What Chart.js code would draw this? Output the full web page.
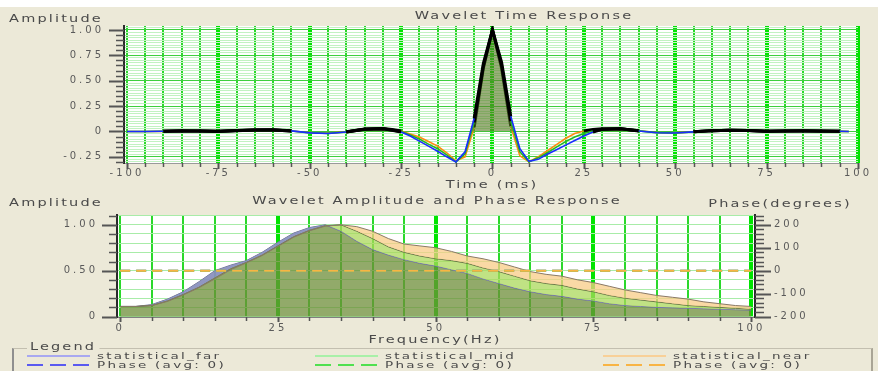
<!DOCTYPE html>
<html>
<head>
<meta charset="utf-8">
<script src="https://cdn.jsdelivr.net/npm/chart.js@4"></script>
<style>
  body { margin: 0; width: 878px; height: 371px; background: #ece9d8; position: relative; overflow: hidden; font-family: "DejaVu Sans", sans-serif; }
  .strip { position: absolute; left: 0; top: 0; width: 878px; height: 7px; background: #fff; }
  .wrap { position: absolute; left: 0; width: 878px; }
  .t { position: absolute; font-size: 10px; line-height: 1; color: #4a4a4a; letter-spacing: 1.5px; white-space: nowrap; transform: translate(-50%, -50%) scaleX(1.45); }
  .box { position: absolute; left: 12px; top: 348px; width: 857px; height: 40px; border-top: 1px solid #c3bfb0; border-left: 2px solid #8f8f8f; border-right: 2px solid #a9a596; }
  .lt { position: absolute; font-size: 10px; line-height: 1; color: #4a4a4a; letter-spacing: 1.5px; white-space: nowrap; background: #ece9d8; transform: translateY(-50%) scaleX(1.45); transform-origin: 0 50%; }
  .lg { position: absolute; font-size: 9px; line-height: 1; color: #4a4a4a; letter-spacing: 1.5px; white-space: nowrap; transform: translateY(-50%) scaleX(1.5); transform-origin: 0 50%; }
  .smp { position: absolute; width: 63px; height: 2px; }
</style>
</head>
<body>
<div class="strip"></div>
<div class="wrap" style="top:0;height:190px"><canvas id="timeChart"></canvas></div>
<div class="wrap" style="top:190px;height:155px"><canvas id="freqChart"></canvas></div>

<div class="t" style="left:56px;top:19px">Amplitude</div>
<div class="t" style="left:524px;top:16px">Wavelet Time Response</div>
<div class="t" style="left:492px;top:185px">Time (ms)</div>
<div class="t" style="left:56px;top:203px">Amplitude</div>
<div class="t" style="left:437px;top:201px">Wavelet Amplitude and Phase Response</div>
<div class="t" style="left:780px;top:204px">Phase(degrees)</div>
<div class="t" style="left:435px;top:340px">Frequency(Hz)</div>

<div class="box"></div>
<div class="lt" style="left:27px;top:347px;padding:0 2px">Legend</div>
<div id="legend"></div>

<script>
// time response (ms)
const TIME_MS = [-100, -95, -90, -85, -80, -75, -70, -65, -60, -55, -50, -45, -40, -35, -30,
  -27.5, -25, -22.5, -20, -17.5, -15, -12.5, -10, -7.5, -5, -2.5, 0, 2.5, 5, 7.5, 10, 12.5, 15,
  17.5, 20, 22.5, 25, 27.5, 30, 35, 40, 45, 50, 55, 60, 65, 70, 75, 80, 85, 90, 95, 97.5];
const TIME_FAR = [0, 0, 0.002, 0.006, 0.005, 0.001, 0.01, 0.015, 0.016, 0.006, -0.014, -0.02, -0.006, 0.022, 0.026,
  0.012, -0.005, -0.045, -0.095, -0.145, -0.195, -0.25, -0.3, -0.2, 0.13, 0.67, 1.0, 0.68, 0.15, -0.17, -0.295, -0.275, -0.225,
  -0.18, -0.135, -0.09, -0.045, -0.005, 0.02, 0.026, 0.004, -0.013, -0.016, -0.004, 0.008, 0.012, 0.01, 0.003, 0.005, 0.006, 0.004, 0.002, 0];
const TIME_MID = [0, 0, 0.002, 0.005, 0.005, 0.001, 0.009, 0.014, 0.015, 0.005, -0.013, -0.019, -0.005, 0.022, 0.027,
  0.015, 0, -0.035, -0.075, -0.125, -0.17, -0.23, -0.3, -0.22, 0.09, 0.64, 1.0, 0.65, 0.1, -0.2, -0.3, -0.26, -0.21,
  -0.155, -0.1, -0.055, -0.02, 0.005, 0.022, 0.027, 0.006, -0.012, -0.015, -0.004, 0.008, 0.012, 0.01, 0.003, 0.004, 0.006, 0.004, 0.001, 0];
const TIME_NEAR = [0, 0, 0.001, 0.004, 0.004, 0, 0.008, 0.013, 0.014, 0.004, -0.012, -0.017, -0.003, 0.023, 0.028,
  0.018, 0.005, -0.025, -0.055, -0.1, -0.145, -0.21, -0.29, -0.25, 0.04, 0.62, 1.0, 0.62, 0.05, -0.24, -0.3, -0.25, -0.19,
  -0.13, -0.07, -0.02, 0.005, 0.018, 0.026, 0.026, 0.007, -0.01, -0.014, -0.003, 0.007, 0.011, 0.009, 0.002, 0.004, 0.005, 0.003, 0.001, 0];

// amplitude spectrum (Hz)
const FREQ_HZ = [0, 2.5, 5, 7.5, 10, 12.5, 15, 17.5, 20, 22.5, 25, 27.5, 30, 32.5, 35, 37.5, 40, 42.5, 45, 47.5,
  50, 52.5, 55, 57.5, 60, 62.5, 65, 67.5, 70, 72.5, 75, 77.5, 80, 82.5, 85, 87.5, 90, 92.5, 95, 97.5, 100];
const AMP_FAR = [0.11, 0.11, 0.13, 0.19, 0.27, 0.38, 0.5, 0.56, 0.61, 0.7, 0.81, 0.91, 0.97, 1.0, 0.93, 0.82, 0.73, 0.67, 0.62, 0.58,
  0.55, 0.51, 0.47, 0.41, 0.36, 0.31, 0.27, 0.24, 0.22, 0.19, 0.17, 0.14, 0.12, 0.11, 0.1, 0.095, 0.09, 0.085, 0.08, 0.075, 0.07];
const AMP_MID = [0.11, 0.11, 0.12, 0.17, 0.24, 0.32, 0.42, 0.52, 0.59, 0.67, 0.77, 0.87, 0.94, 0.99, 1.0, 0.93, 0.85, 0.76, 0.7, 0.66,
  0.63, 0.61, 0.58, 0.53, 0.49, 0.44, 0.39, 0.36, 0.34, 0.3, 0.27, 0.23, 0.2, 0.18, 0.16, 0.14, 0.12, 0.11, 0.1, 0.09, 0.08];
const AMP_NEAR = [0.11, 0.11, 0.12, 0.165, 0.235, 0.315, 0.41, 0.51, 0.585, 0.665, 0.765, 0.865, 0.935, 0.985, 1.0, 0.98, 0.93, 0.85, 0.79, 0.77,
  0.75, 0.71, 0.66, 0.63, 0.59, 0.54, 0.49, 0.46, 0.44, 0.4, 0.37, 0.33, 0.29, 0.26, 0.23, 0.21, 0.19, 0.16, 0.14, 0.12, 0.11];

// phase (degrees), flat at avg 0
const PHASE_HZ = [0, 100];
const PHASE_FAR = [0, 0];
const PHASE_MID = [0, 0];
const PHASE_NEAR = [0, 0];

const SERIES = ["statistical_far", "statistical_mid", "statistical_near"];
const PHASE_LABEL = "Phase (avg: 0)";

function range(from, to, step) {
  const n = Math.round((to - from) / step);
  return Array.from({ length: n + 1 }, (_, i) => +(from + i * step).toFixed(6));
}
function isMult(v, m) { return Math.abs(v / m - Math.round(v / m)) < 1e-6; }
function pts(xs, ys) { return xs.map((x, i) => ({ x, y: ys[i] })); }

const FONT = { family: "DejaVu Sans", size: 10 };
const TICK_COLOR = "#5a5a5a";

// white plot area + wide tick text
const plotBg = {
  id: "plotBg",
  beforeDraw(chart) {
    const { ctx, chartArea: a } = chart;
    ctx.letterSpacing = "3px";
    ctx.save();
    ctx.fillStyle = "#fff";
    ctx.fillRect(a.left, a.top, a.right - a.left, a.bottom - a.top);
    ctx.restore();
  }
};

// axis tick marks with long majors / short minors
const tickMarks = {
  id: "tickMarks",
  afterDraw(chart, args, opts) {
    const { ctx, chartArea } = chart;
    ctx.save();
    ctx.strokeStyle = "#555";
    for (const a of opts.axes || []) {
      const s = chart.scales[a.id];
      for (const v of range(a.from, a.to, a.step)) {
        const major = isMult(v, a.major);
        const len = major ? a.majorLen : a.minorLen;
        const p = Math.round(s.getPixelForValue(v)) + 0.5;
        ctx.lineWidth = major ? 2 : 1.5;
        ctx.beginPath();
        if (a.side === "bottom") {
          ctx.moveTo(p, chartArea.bottom); ctx.lineTo(p, chartArea.bottom + len);
        } else if (a.side === "left") {
          ctx.moveTo(chartArea.left - len, p); ctx.lineTo(chartArea.left, p);
        } else {
          ctx.moveTo(chartArea.right, p); ctx.lineTo(chartArea.right + len, p);
        }
        ctx.stroke();
      }
    }
    ctx.restore();
  }
};

const vGridColor = (major) => (ctx) => {
  const v = ctx.tick ? ctx.tick.value : 0;
  return isMult(v, major) && v !== major * -4 && v !== 0 || (v === 0 && major === 25 && ctx.chart.canvas.id === "timeChart") ? "#00e400" : "#2bd82b";
};
const vGridWidth = (major) => (ctx) => {
  const v = ctx.tick ? ctx.tick.value : 0;
  if (ctx.chart.canvas.id === "timeChart") return isMult(v, major) && v !== -100 ? 4 : 2;
  return isMult(v, major) && v !== 0 ? 4 : 2;
};

// positive lobes are outlined in black
const posSegment = (color) => ({
  borderColor: (c) => (c.p0.parsed.y + c.p1.parsed.y) / 2 > 0.0015 ? "#000" : color,
  borderWidth: (c) => (c.p0.parsed.y + c.p1.parsed.y) / 2 > 0.0015 ? 3 : 1.6
});

new Chart(document.getElementById("timeChart"), {
  type: "line",
  data: {
    datasets: [
      { label: SERIES[0], data: pts(TIME_MS, TIME_FAR), borderColor: "#1a2cff", segment: posSegment("#1a2cff"), order: 1 },
      { label: SERIES[1], data: pts(TIME_MS, TIME_MID), borderColor: "#22b822", segment: posSegment("#22b822"), order: 2,
        fill: { target: { value: 0 }, above: "rgba(90,125,40,0.62)", below: "rgba(0,0,0,0)" } },
      { label: SERIES[2], data: pts(TIME_MS, TIME_NEAR), borderColor: "#ff8c10", segment: posSegment("#ff8c10"), order: 3 }
    ]
  },
  options: {
    animation: false, responsive: true, maintainAspectRatio: false, events: [],
    layout: { padding: { top: 25, right: 20, left: 0, bottom: 0 } },
    elements: { point: { radius: 0 }, line: { tension: 0, borderWidth: 1.6 } },
    plugins: {
      legend: { display: false }, tooltip: { enabled: false },
      tickMarks: { axes: [
        { id: "x", side: "bottom", from: -100, to: 100, step: 5, major: 25, minorLen: 4, majorLen: 6 },
        { id: "y", side: "left", from: -0.3, to: 1.0, step: 0.05, major: 0.25, minorLen: 8, majorLen: 15 }
      ] }
    },
    scales: {
      x: {
        type: "linear", min: -100.8, max: 100,
        afterBuildTicks: (s) => { s.ticks = range(-100, 100, 5).map((value) => ({ value })); },
        afterFit: (s) => { s.height = 27; },
        ticks: { autoSkip: false, maxRotation: 0, padding: 4, color: TICK_COLOR, font: FONT,
          callback: (v) => isMult(v, 25) ? String(v) : "" },
        grid: { drawTicks: false, color: vGridColor(25), lineWidth: vGridWidth(25) },
        border: { display: true, color: "#9a9a9a", width: 1 }
      },
      y: {
        min: -0.311, max: 1.039,
        afterBuildTicks: (s) => { s.ticks = range(-0.3, 1.025, 0.025).map((value) => ({ value })); },
        afterFit: (s) => { s.width = 124; },
        ticks: { autoSkip: false, padding: 20, color: TICK_COLOR, font: FONT,
          callback: (v) => isMult(v, 0.25) ? (Math.abs(v) < 1e-9 ? "0" : v.toFixed(2)) : "" },
        grid: { drawTicks: false,
          color: (c) => c.tick && isMult(c.tick.value, 0.25) ? "#3fcf3f" : "#c2f2c2",
          lineWidth: 1 },
        border: { display: true, color: "#2a2a2a", width: 2 }
      }
    }
  },
  plugins: [plotBg, tickMarks]
});

new Chart(document.getElementById("freqChart"), {
  type: "line",
  data: {
    datasets: [
      { label: SERIES[0], data: pts(FREQ_HZ, AMP_FAR), borderColor: "#6a6aa0", borderWidth: 1, order: 6,
        fill: { target: "origin", above: "rgba(110,142,56,0.75)", below: "rgba(110,142,56,0.75)" } },
      { label: SERIES[1], data: pts(FREQ_HZ, AMP_MID), borderColor: "#5d7040", borderWidth: 1, order: 5,
        fill: { target: 0, above: "rgba(171,216,91,0.75)", below: "rgba(144,144,224,0.75)" } },
      { label: SERIES[2], data: pts(FREQ_HZ, AMP_NEAR), borderColor: "#8a7a66", borderWidth: 1, order: 4,
        fill: { target: 1, above: "rgba(248,204,135,0.75)", below: "rgba(0,0,0,0)" } },
      { label: PHASE_LABEL, data: pts(PHASE_HZ, PHASE_FAR), yAxisID: "phase", borderColor: "#5a5af0", borderWidth: 2, borderDash: [10, 6], order: 3 },
      { label: PHASE_LABEL, data: pts(PHASE_HZ, PHASE_MID), yAxisID: "phase", borderColor: "#50e050", borderWidth: 2, borderDash: [10, 6], order: 2 },
      { label: PHASE_LABEL, data: pts(PHASE_HZ, PHASE_NEAR), yAxisID: "phase", borderColor: "#f8b444", borderWidth: 2, borderDash: [10, 6], order: 1 }
    ]
  },
  options: {
    animation: false, responsive: true, maintainAspectRatio: false, events: [],
    layout: { padding: { top: 18, right: 0, left: 0, bottom: 0 } },
    elements: { point: { radius: 0 }, line: { tension: 0 } },
    plugins: {
      legend: { display: false }, tooltip: { enabled: false },
      tickMarks: { axes: [
        { id: "x", side: "bottom", from: 0, to: 100, step: 5, major: 25, minorLen: 4, majorLen: 5 },
        { id: "y", side: "left", from: 0, to: 1.1, step: 0.1, major: 0.5, minorLen: 8, majorLen: 15 },
        { id: "phase", side: "right", from: -200, to: 240, step: 20, major: 100, minorLen: 9, majorLen: 16 }
      ] }
    },
    scales: {
      x: {
        type: "linear", min: -0.5, max: 100.6,
        afterBuildTicks: (s) => { s.ticks = range(0, 100, 5).map((value) => ({ value })); },
        afterFit: (s) => { s.height = 28; },
        ticks: { autoSkip: false, maxRotation: 0, padding: 5, color: TICK_COLOR, font: FONT,
          callback: (v) => isMult(v, 25) ? String(v) : "" },
        grid: { drawTicks: false, color: vGridColor(25), lineWidth: vGridWidth(25) },
        border: { display: true, color: "#808080", width: 1 }
      },
      y: {
        min: -0.005, max: 1.107,
        afterBuildTicks: (s) => { s.ticks = range(0, 1.1, 0.1).map((value) => ({ value })); },
        afterFit: (s) => { s.width = 117; },
        ticks: { autoSkip: false, padding: 19, color: TICK_COLOR, font: FONT,
          callback: (v) => isMult(v, 0.5) ? (Math.abs(v) < 1e-9 ? "0" : v.toFixed(2)) : "" },
        grid: { drawTicks: false, color: "#a8eca8", lineWidth: 1 },
        border: { display: true, color: "#2a2a2a", width: 2 }
      },
      phase: {
        position: "right", min: -202, max: 242.8,
        afterBuildTicks: (s) => { s.ticks = range(-200, 240, 20).map((value) => ({ value })); },
        afterFit: (s) => { s.width = 123; },
        ticks: { autoSkip: false, padding: 19, color: TICK_COLOR, font: FONT,
          callback: (v) => isMult(v, 100) ? String(v) : "" },
        grid: { drawTicks: false, drawOnChartArea: false },
        border: { display: true, color: "#2a2a2a", width: 2 }
      }
    }
  },
  plugins: [plotBg, tickMarks]
});

// legend rows
const LEGEND_COLS = [27, 315, 603];
const LINE_COLORS = ["#a8a8f0", "#a8f0a8", "#f8d098"];
const DASH_COLORS = ["#5a5af0", "#50e050", "#f8b444"];
const legendEl = document.getElementById("legend");
SERIES.forEach((name, i) => {
  const x = LEGEND_COLS[i];
  const solid = document.createElement("div");
  solid.className = "smp";
  solid.style.cssText = `left:${x}px;top:355px;background:${LINE_COLORS[i]}`;
  const dashed = document.createElement("div");
  dashed.className = "smp";
  dashed.style.cssText = `left:${x}px;top:364px;background:repeating-linear-gradient(90deg, ${DASH_COLORS[i]} 0 16px, transparent 16px 23px)`;
  const t1 = document.createElement("div");
  t1.className = "lg";
  t1.style.cssText = `left:${x + 70}px;top:356px`;
  t1.textContent = name;
  const t2 = document.createElement("div");
  t2.className = "lg";
  t2.style.cssText = `left:${x + 70}px;top:365px`;
  t2.textContent = PHASE_LABEL;
  legendEl.append(solid, dashed, t1, t2);
});
</script>
</body>
</html>
